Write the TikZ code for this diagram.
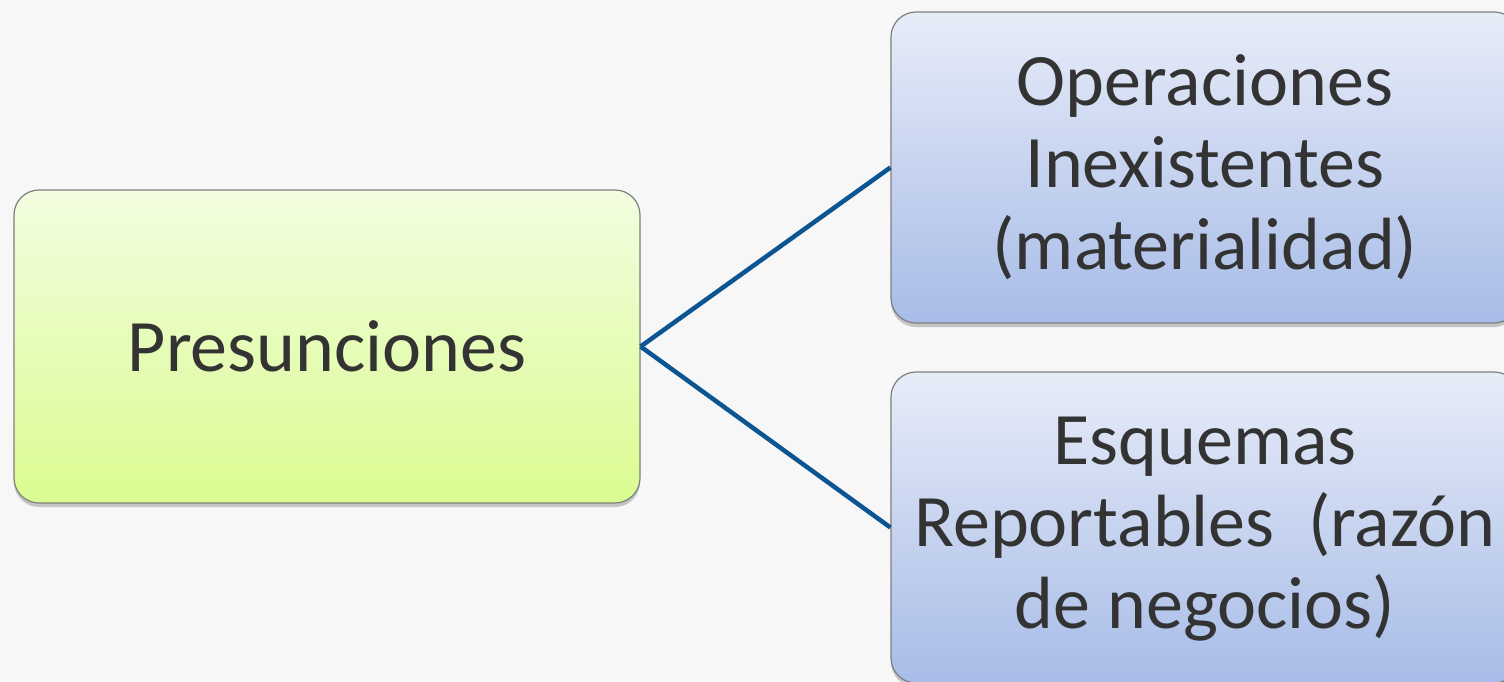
\documentclass[tikz,border=0pt]{standalone}
\usepackage{fontspec}
\setmainfont{Carlito}
\usetikzlibrary{shadows}
\definecolor{bgc}{HTML}{F7F7F7}
\definecolor{txt}{HTML}{333333}
\definecolor{linec}{HTML}{0B5592}
\definecolor{gtop}{HTML}{F2FDE0}
\definecolor{gbot}{HTML}{DAFC90}
\definecolor{btop}{HTML}{E7ECF8}
\definecolor{bbot}{HTML}{A7BCE7}
\definecolor{edgec}{HTML}{7F7F7F}
\tikzset{
  boxbase/.style={draw=edgec, line width=1.2pt, rounded corners=25pt, align=center,
    text=txt, font=\fontsize{74}{82}\selectfont, inner sep=0pt,
    drop shadow={shadow xshift=0pt, shadow yshift=-4pt, opacity=0.35, fill=black!60}},
  greenbox/.style={boxbase, top color=gtop, bottom color=gbot, minimum width=626pt, minimum height=313pt},
  bluebox/.style={boxbase, top color=btop, bottom color=bbot, minimum width=628pt, minimum height=311pt,
    text depth=10pt},
  conn/.style={draw=linec, line width=4.5pt}
}
\begin{document}
\begin{tikzpicture}[x=1pt, y=-1pt]
\fill[bgc] (0,0) rectangle (1504,681);
\useasboundingbox (0,0) rectangle (1504,681);
\begin{scope}
\clip (0,0) rectangle (1504,681);
\node[greenbox] (pres) at (327,346.5) {Presunciones};
\node[bluebox] (oper) at (1205,167.5) {Operaciones\\Inexistentes\\(materialidad)};
\node[bluebox] (esq) at (1205,527.5) {Esquemas\\Reportables~~(razón\\de negocios)};
\draw[conn] (pres.east) -- (oper.west);
\draw[conn] (pres.east) -- (esq.west);
\end{scope}
\end{tikzpicture}
\end{document}
